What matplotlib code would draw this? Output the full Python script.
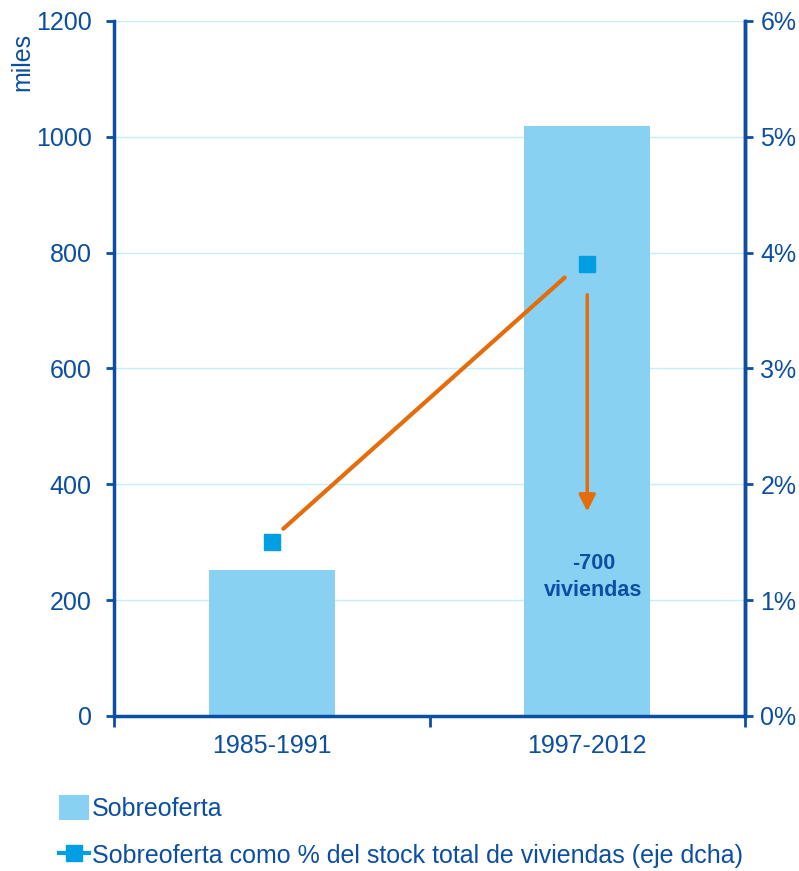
import numpy as np
import matplotlib.pyplot as plt
from matplotlib.patches import Patch
from matplotlib.lines import Line2D

plt.rcParams['font.family'] = ['Liberation Sans', 'DejaVu Sans']

periodos = ['1985-1991', '1997-2012']
sobreoferta = [252, 1019]        # miles
pct_stock = [1.5, 3.9]           # % del stock total (eje dcha)

azul = '#0b4ea2'
celeste = '#89d1f2'
marcador = '#009fe3'
naranja = '#e46c0a'
rejilla = '#c9ecf9'

fig = plt.figure(figsize=(7.99, 8.71), dpi=100)
ax = fig.add_axes([0.1427, 0.178, 0.7897, 0.798])
x = np.arange(len(periodos))

ax.bar(x, sobreoferta, width=0.40, color=celeste, zorder=2)
ax.set_xlim(-0.5, 1.5)
ax.set_ylim(0, 1200)
ax.set_yticks(range(0, 1201, 200))
ax.grid(axis='y', color=rejilla, linewidth=1, zorder=0)
ax.set_xticks([-0.5, 0.5, 1.5], minor=False)
ax.set_xticklabels([])
ax.set_xticks(x, minor=True)
ax.set_xticklabels(periodos, minor=True)
ax.tick_params(axis='x', which='major', length=8, width=2, color=azul, direction='out')
ax.tick_params(axis='x', which='minor', length=0, labelsize=18, labelcolor=azul, pad=13)
ax.tick_params(axis='y', length=6, width=2, color=azul, labelsize=18, labelcolor=azul, pad=10)
ax.spines['top'].set_visible(False)
for s in ['left', 'right', 'bottom']:
    ax.spines[s].set_color(azul)
    ax.spines[s].set_linewidth(2.5)

ax2 = ax.twinx()
ax2.set_ylim(0, 6)
ax2.set_yticks(range(0, 7))
ax2.set_yticklabels([f'{v}%' for v in range(0, 7)])
ax2.tick_params(axis='y', length=6, width=2, color=azul, labelsize=18, labelcolor=azul, pad=5)
ax2.spines['top'].set_visible(False)
ax2.spines['right'].set_color(azul)
ax2.spines['right'].set_linewidth(2.5)
ax2.spines['left'].set_visible(False)
ax2.spines['bottom'].set_visible(False)
ax2.plot(x, pct_stock, linestyle='none', marker='s', markersize=12,
         color=marcador, zorder=4)

# flecha diagonal (sin punta) y flecha vertical
ax2.annotate('', xy=(x[1] - 0.065, pct_stock[1] - 0.1), xytext=(x[0] + 0.03, pct_stock[0] + 0.1),
             arrowprops=dict(arrowstyle='-', color=naranja, lw=3))
ax2.annotate('', xy=(x[1], 1.74), xytext=(x[1], pct_stock[1] - 0.24),
             arrowprops=dict(arrowstyle='-|>', color=naranja, lw=2.5, mutation_scale=25))
ax2.text(x[1] + 0.02, 1.20, '-700\nviviendas', ha='center', va='center', fontsize=15.5,
         fontweight='bold', color=azul, linespacing=1.4)

fig.text(22 / 799, 1 - 62 / 871, 'miles', rotation=90, ha='center', va='center',
         fontsize=18, color=azul)

handles = [Patch(facecolor=celeste, edgecolor='none'),
           Line2D([], [], color=marcador, lw=3, marker='s', markersize=12)]
labels = ['Sobreoferta', 'Sobreoferta como % del stock total de viviendas (eje dcha)']
fig.legend(handles, labels, loc='lower left', bbox_to_anchor=(0.052, -0.017), frameon=False,
           fontsize=18, labelcolor=azul, handlelength=1.2, handleheight=1.2,
           handletextpad=0.1, labelspacing=0.85, borderaxespad=0.3)

fig.savefig('out.png', dpi=100)
